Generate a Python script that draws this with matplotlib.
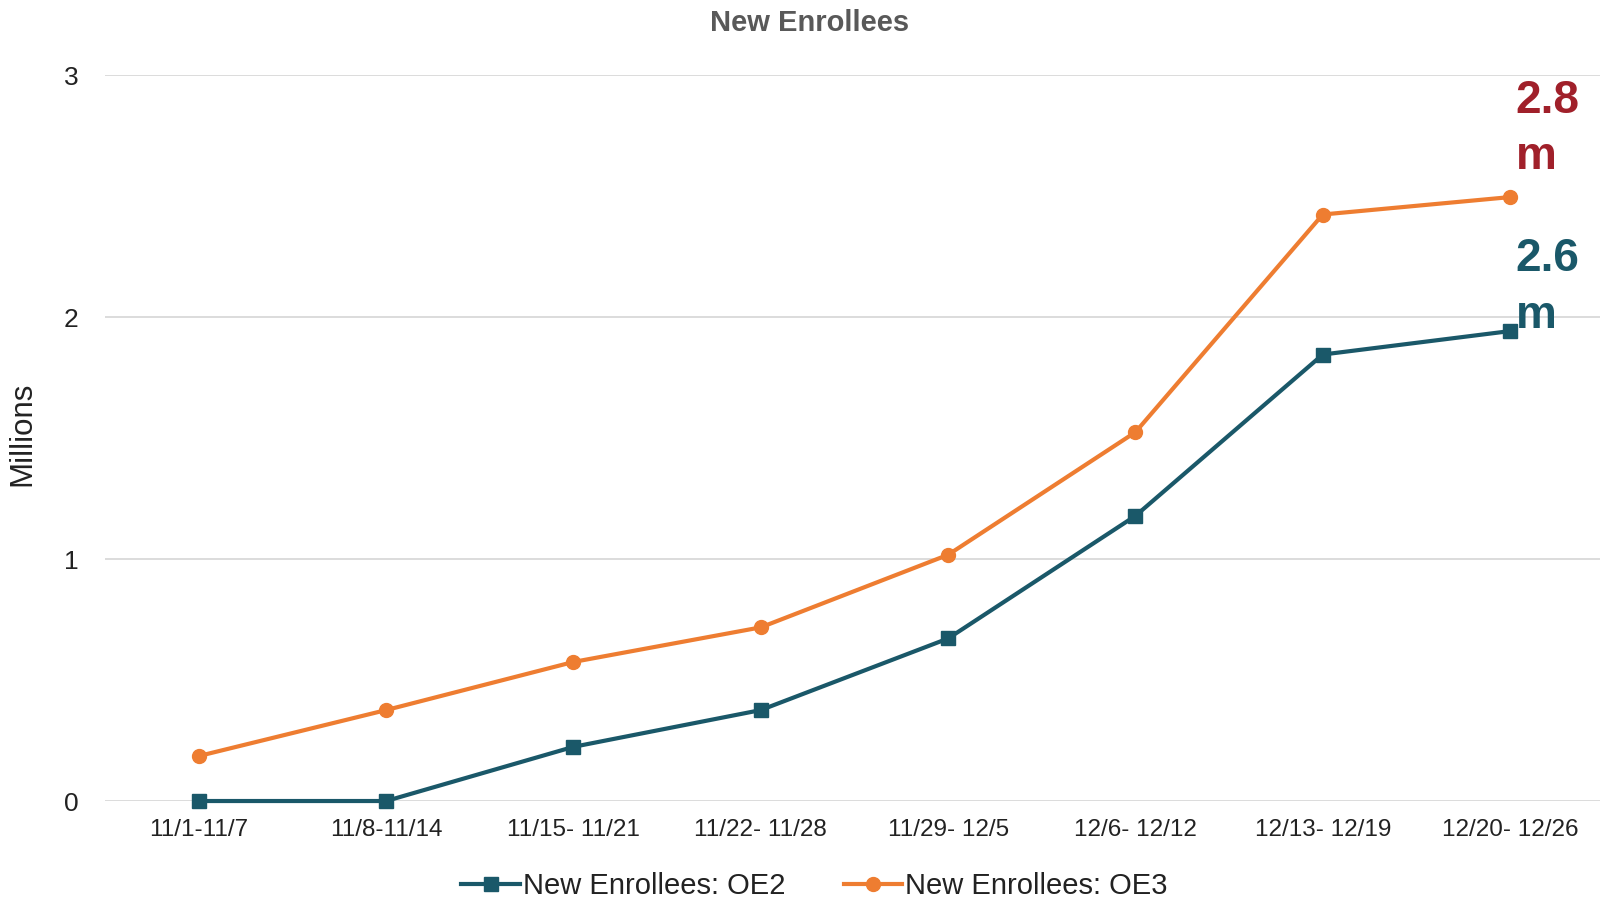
import matplotlib
matplotlib.use("Agg")
import matplotlib.pyplot as plt

# Weekly cumulative new enrollees (millions)
weeks = ["11/1-11/7", "11/8-11/14", "11/15- 11/21", "11/22- 11/28",
         "11/29- 12/5", "12/6- 12/12", "12/13- 12/19", "12/20- 12/26"]
oe2 = [0.0, 0.0, 0.224, 0.376, 0.672, 1.179, 1.846, 1.943]
oe3 = [0.186, 0.376, 0.575, 0.718, 1.018, 1.525, 2.425, 2.497]
series_names = ["New Enrollees: OE2", "New Enrollees: OE3"]
end_labels = ["2.6\nm", "2.8\nm"]

TEAL = "#1A5869"
ORANGE = "#EE7D31"
DARKRED = "#A0202A"
REGULAR = ["Liberation Sans", "DejaVu Sans"]

fig = plt.figure(figsize=(16, 8.98), dpi=100)
ax = fig.add_axes([0.0657, 0.108, 0.9343, 0.808])

x = list(range(len(weeks)))
ax.plot(x, oe2, color=TEAL, lw=3, marker="s", ms=9.5, label=series_names[0],
        solid_joinstyle="round", clip_on=False, zorder=3)
ax.plot(x, oe3, color=ORANGE, lw=3, marker="o", ms=10, label=series_names[1],
        solid_joinstyle="round", clip_on=False, zorder=3)

ax.set_xlim(-0.5, 7.48)
ax.set_ylim(0, 3)
ax.set_yticks([0, 1, 2, 3])
ax.set_xticks(x)
ax.set_xticklabels(weeks, family=REGULAR, fontsize=17.5)
for lbl in ax.get_yticklabels():
    lbl.set_family(REGULAR)
    lbl.set_fontsize(19)
ax.tick_params(axis="y", length=0, pad=19, colors="#222222")
ax.tick_params(axis="x", length=0, pad=13, colors="#222222")
ax.grid(axis="y", color="#D9D9D9", lw=1.3)
ax.set_axisbelow(True)
for s in ax.spines.values():
    s.set_visible(False)

# End-of-season totals beside the last points
ax.annotate(end_labels[1], xy=(x[-1], 2.985), xytext=(4, 0), textcoords="offset points",
            ha="left", va="top", fontsize=33, fontweight="bold", color=DARKRED,
            family=REGULAR, linespacing=1.36, annotation_clip=False)
ax.annotate(end_labels[0], xy=(x[-1], 2.33), xytext=(4, 0), textcoords="offset points",
            ha="left", va="top", fontsize=33, fontweight="bold", color=TEAL,
            family=REGULAR, linespacing=1.36, annotation_clip=False)

fig.text(0.506, 1 - 23 / 898, "New Enrollees", ha="center", va="center", fontsize=21,
         fontweight="bold", color="#595959", family=REGULAR)
fig.text(0.014, 1 - 434 / 898, "Millions", rotation=90, ha="center", va="center",
         fontsize=22.5, color="#222222", family=REGULAR)

leg = fig.legend(loc="center", bbox_to_anchor=(0.509, 0.013), ncol=2, frameon=False,
                 prop={"family": REGULAR, "size": 21}, handlelength=2.0,
                 columnspacing=2.0, handletextpad=0.1)
for t in leg.get_texts():
    t.set_color("#222222")

fig.savefig("out.png", dpi=100)
